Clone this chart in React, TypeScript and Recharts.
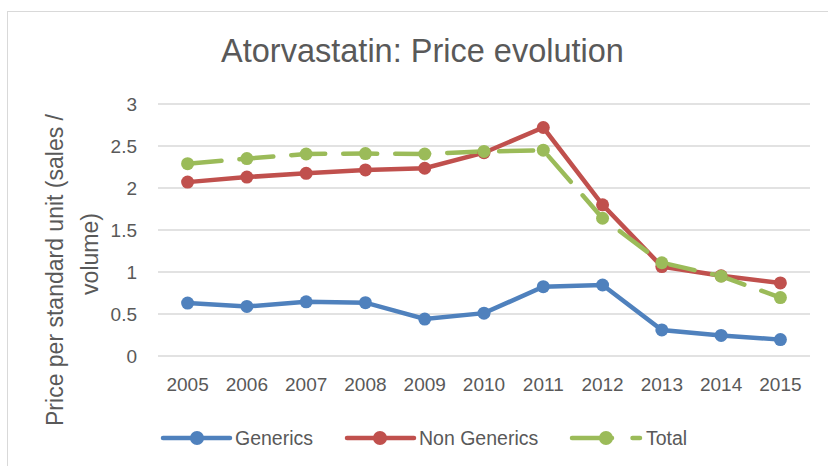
import React from "react";
import { LineChart, Line, XAxis, YAxis, CartesianGrid, Legend } from "recharts";

const years = ["2005", "2006", "2007", "2008", "2009", "2010", "2011", "2012", "2013", "2014", "2015"];
const generics = [0.63, 0.59, 0.645, 0.635, 0.44, 0.51, 0.825, 0.845, 0.31, 0.245, 0.195];
const nonGenerics = [2.07, 2.13, 2.175, 2.215, 2.235, 2.42, 2.72, 1.8, 1.065, 0.955, 0.87];
const total = [2.29, 2.35, 2.405, 2.41, 2.405, 2.435, 2.45, 1.64, 1.11, 0.95, 0.695];
const yTicks = [0, 0.5, 1, 1.5, 2, 2.5, 3];

const data = years.map((y, i) => ({
  year: y,
  Generics: generics[i],
  "Non Generics": nonGenerics[i],
  Total: total[i],
}));

const FONT = "'Liberation Sans', Arial, sans-serif";
const TEXT = "#595959";
const BLUE = "#4F81BD";
const RED = "#C0504D";
const GREEN = "#9BBB59";

const legendLayout: Record<string, { x1: number; x2: number; dot: number; text: number; dashed?: boolean }> = {
  Generics: { x1: 163, x2: 230, dot: 197, text: 235 },
  "Non Generics": { x1: 347, x2: 414, dot: 380, text: 419 },
  Total: { x1: 572, x2: 640, dot: 606, text: 646, dashed: true },
};

const LegendContent = (props: any) => {
  const { payload } = props;
  return (
    <svg width={828} height={36} style={{ display: "block" }}>
      {(payload || []).map((p: any) => {
        const L = legendLayout[p.value];
        if (!L) return null;
        return (
          <g key={p.value}>
            <line
              x1={L.x1}
              x2={L.x2}
              y1={18}
              y2={18}
              stroke={p.color}
              strokeWidth={4.5}
              strokeLinecap="round"
              strokeDasharray={L.dashed ? "40 20.5" : undefined}
            />
            <circle cx={L.dot} cy={18} r={7} fill={p.color} />
            <text x={L.text} y={25} fontSize={19.5} fill={TEXT} fontFamily={FONT}>
              {p.value}
            </text>
          </g>
        );
      })}
    </svg>
  );
};

export default function App() {
  return (
    <div style={{ position: "absolute", left: 0, top: 0, width: 828, height: 466, background: "#fff", overflow: "hidden" }}>
      <div
        style={{
          position: "absolute",
          left: 7,
          top: 11,
          width: 840,
          height: 480,
          borderTop: "1.5px solid #d9d9d9",
          borderLeft: "1.5px solid #d9d9d9",
        }}
      />
      <svg width={828} height={466} style={{ position: "absolute", left: 0, top: 0 }}>
        <text x={422.5} y={62} textAnchor="middle" fontSize={32.5} fill={TEXT} fontFamily={FONT}>
          Atorvastatin: Price evolution
        </text>
        <text
          transform="translate(63,270) rotate(-90)"
          textAnchor="middle"
          fontSize={23}
          fill={TEXT}
          fontFamily={FONT}
        >
          Price per standard unit (sales /
        </text>
        <text
          transform="translate(98,254) rotate(-90)"
          textAnchor="middle"
          fontSize={23}
          fill={TEXT}
          fontFamily={FONT}
        >
          volume)
        </text>
      </svg>
      <div style={{ position: "absolute", left: 0, top: 0 }}>
        <LineChart width={828} height={466} data={data} margin={{ top: 104, right: 18, bottom: 80, left: 108 }}>
          <CartesianGrid vertical={false} stroke="#d9d9d9" strokeWidth={1.5} />
          <XAxis
            dataKey="year"
            axisLine={false}
            tickLine={false}
            tick={{ fontSize: 19, fill: TEXT, fontFamily: FONT }}
            tickMargin={16}
            height={30}
            padding={{ left: 29.6, right: 29.6 }}
            interval={0}
          />
          <YAxis
            domain={[0, 3]}
            ticks={yTicks}
            axisLine={false}
            tickLine={false}
            tick={{ fontSize: 19, fill: TEXT, fontFamily: FONT }}
            width={50}
            tickMargin={15}
          />
          <Legend
            verticalAlign="middle"
            align="center"
            wrapperStyle={{ top: 420, left: 0, width: 828 }}
            content={<LegendContent />}
          />
          <Line
            dataKey="Generics"
            stroke={BLUE}
            strokeWidth={4.5}
            dot={{ r: 6.5, fill: BLUE, stroke: BLUE, strokeWidth: 0 }}
            activeDot={false}
            isAnimationActive={false}
          />
          <Line
            dataKey="Non Generics"
            stroke={RED}
            strokeWidth={4.5}
            dot={{ r: 6.5, fill: RED, stroke: RED, strokeWidth: 0 }}
            activeDot={false}
            isAnimationActive={false}
          />
          <Line
            dataKey="Total"
            stroke={GREEN}
            strokeWidth={4.5}
            strokeDasharray="34 18"
            strokeLinecap="round"
            dot={{ r: 6.5, fill: GREEN, stroke: GREEN, strokeWidth: 0, strokeDasharray: "0" }}
            activeDot={false}
            isAnimationActive={false}
          />
        </LineChart>
      </div>
    </div>
  );
}
